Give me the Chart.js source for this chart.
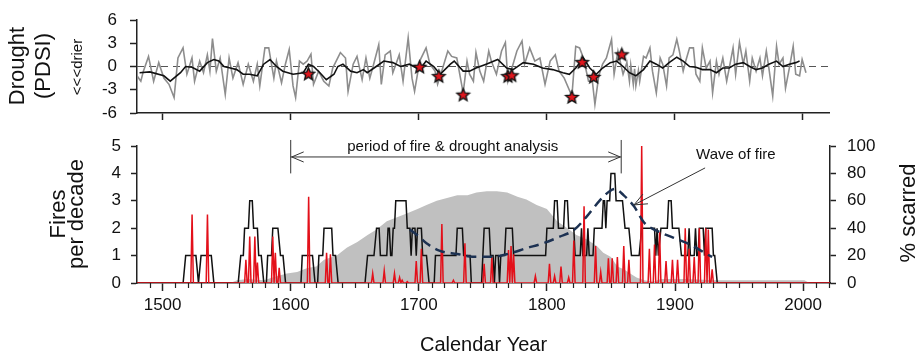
<!DOCTYPE html>
<html>
<head>
<meta charset="utf-8">
<script src="https://cdn.jsdelivr.net/npm/chart.js@4.4.0/dist/chart.umd.min.js"></script>
<style>
  body { margin: 0; background: #fff; }
  #wrap { position: relative; width: 921px; height: 362px; }
  canvas { position: absolute; left: 0; }
  #top { top: 0; }
  #bottom { top: 125px; }
</style>
</head>
<body>
<div id="wrap">
  <canvas id="top" width="921" height="125"></canvas>
  <canvas id="bottom" width="921" height="237"></canvas>
</div>
<script>
const FONT = "'Liberation Sans', Arial, sans-serif";

// tick labels
const yearTicks = [1500, 1600, 1700, 1800, 1900, 2000];
const pdsiTicks = [-6, -3, 0, 3, 6];
const fireTicks = [0, 1, 2, 3, 4, 5];
const scarTicks = [0, 20, 40, 60, 80, 100];

// top panel: annual PDSI (grey), smoothed (black), fire-year stars
const pdsiYears = [1480,1483,1485,1489,1493,1497,1501,1505,1509,1512,1516,1519,1523,1525,1529,1532,1535,1537,1539,1542,1545,1549,1552,1555,1559,1563,1567,1571,1574,1576,1580,1583,1587,1589,1593,1596,1599,1602,1604,1607,1610,1613,1616,1618,1622,1626,1630,1633,1639,1643,1645,1649,1652,1656,1659,1662,1665,1669,1671,1674,1678,1680,1685,1688,1692,1695,1697,1701,1706,1709,1713,1715,1719,1723,1726,1730,1735,1738,1740,1743,1745,1748,1751,1755,1757,1761,1765,1768,1770,1774,1777,1781,1783,1787,1791,1795,1799,1803,1807,1810,1814,1820,1823,1826,1829,1833,1836,1838,1841,1844,1847,1851,1853,1856,1860,1863,1865,1866,1868,1869,1870,1872,1873,1876,1878,1881,1883,1886,1889,1891,1894,1896,1899,1902,1904,1907,1909,1912,1915,1917,1920,1922,1925,1928,1930,1933,1935,1938,1941,1943,1946,1948,1951,1954,1956,1959,1961,1964,1967,1969,1972,1974,1977,1980,1982,1985,1987,1990,1993,1995,1998,2000,2003];
const pdsiVals = [-1.2,-1.9,-0.6,1.3,-1.9,0.5,-1.5,-2.3,-4.0,1.1,2.4,-1.0,1.1,-1.9,0.7,-0.8,1.5,-0.6,3.6,-0.6,1.1,-3.6,1.1,-1.5,0.5,-2.3,0.3,-1.9,0.3,-2.5,2.4,2.4,-1.5,0.7,-2.1,0.3,2.2,-2.5,-4.0,0.7,0.3,0.7,1.6,-2.3,-0.6,-1.9,-2.5,-0.2,1.8,1.1,-3.2,0.3,1.3,-1.7,1.1,-1.5,0.3,2.8,-2.3,1.5,2.0,-0.8,1.5,-1.9,3.7,-1.5,-3.2,0.7,2.4,0.3,-0.6,-2.3,-0.2,2.0,1.3,1.1,-3.4,0.7,-1.0,-1.9,1.8,-0.6,-1.9,2.0,0.7,-1.0,2.0,3.1,-1.9,0.3,2.0,3.3,0.3,2.4,0.7,1.1,-2.3,0.7,1.5,-0.6,-1.5,-3.8,2.6,2.4,1.1,-1.9,-1.9,-4.9,-1.2,0.3,1.1,3.5,-1.0,2.0,-1.0,0.5,-1.9,0.2,-2.3,-0.3,-2.5,-0.5,-1.9,1.3,1.1,2.4,-0.6,-3.4,1.1,0.3,-2.5,1.1,1.5,3.5,2.0,-0.6,0.7,2.4,2.4,-1.0,-1.9,2.4,-0.2,0.7,-3.4,0.7,-1.0,1.1,-1.9,-0.2,2.4,-1.0,3.1,0.3,2.0,-1.9,1.1,-0.6,1.1,-1.2,2.0,-0.2,-3.8,2.6,0.3,1.1,-2.8,-0.2,2.6,-1.0,-1.2,0.9,-0.8];

const smoothYears = [1482,1490,1501,1506,1514,1518,1523,1529,1535,1540,1544,1548,1553,1558,1563,1568,1574,1579,1584,1589,1594,1602,1610,1614,1618,1623,1628,1634,1637,1641,1647,1652,1657,1660,1667,1673,1680,1686,1693,1701,1706,1712,1717,1725,1728,1735,1740,1745,1753,1762,1769,1774,1782,1790,1797,1805,1813,1818,1823,1829,1834,1839,1844,1850,1855,1860,1865,1870,1876,1881,1886,1891,1896,1902,1907,1912,1917,1922,1928,1933,1938,1943,1948,1954,1959,1964,1969,1974,1980,1985,1990,1995,1998];
const smoothVals = [-0.8,-0.7,-1.2,-1.9,-0.8,0.0,-0.1,-0.6,0.5,0.9,0.7,0.0,-0.2,-0.4,-1.0,-1.0,-1.2,0.3,0.9,0.0,-0.6,-1.0,-0.8,0.3,0.0,-0.8,-1.7,-1.0,0.0,0.3,-0.6,-0.8,-0.4,-0.8,0.0,0.7,0.5,0.0,0.3,-0.4,0.7,0.0,-1.0,0.3,0.7,-0.6,-0.6,-0.2,0.3,0.9,-0.2,-0.4,0.5,0.3,-0.2,-0.4,-0.8,-1.0,-0.2,1.1,-0.2,-1.0,-0.2,0.5,0.7,0.0,-0.8,-1.2,-0.4,0.7,0.3,-0.2,0.5,1.2,0.7,0.0,-0.1,-0.4,-0.4,-0.8,-0.2,-0.2,0.3,0.5,0.0,-0.4,-0.2,0.3,0.7,0.0,0.3,0.5,0.7];

const starYears = [1614, 1701, 1716, 1735, 1770, 1773, 1820, 1828, 1837, 1859];
const starVals = [-1.0, -0.1, -1.3, -3.7, -1.3, -1.2, -4.0, 0.5, -1.4, 1.5];

const zeroYears = [1480, 2021];
const zeroVals = [0, 0];

// bottom panel: fires per decade (black), % scarred (red), % recording (grey), wave (dashed)
const fireStepYears = [1480,1516,1518,1526,1528,1530,1538,1540,1559,1561,1563,1564,1567,1568,1570,1571,1574,1575,1577,1579,1581,1582,1585,1586,1590,1592,1594,1596,1608,1609,1617,1619,1621,1622,1625,1626,1632,1633,1635,1637,1658,1660,1665,1667,1669,1670,1675,1676,1677,1678,1679,1680,1681,1682,1690,1691,1693,1694,1695,1697,1698,1699,1702,1703,1706,1708,1712,1713,1729,1730,1734,1735,1740,1741,1749,1750,1751,1755,1756,1758,1759,1760,1762,1763,1764,1767,1768,1773,1774,1799,1800,1805,1806,1808,1809,1813,1814,1816,1817,1821,1822,1826,1827,1828,1831,1832,1833,1836,1837,1843,1844,1845,1846,1847,1849,1850,1853,1854,1859,1861,1864,1866,1872,1874,1884,1885,1886,1887,1889,1894,1895,1897,1898,1903,1905,1910,1911,1912,1915,1916,1917,1918,1919,1922,1923,1924,1929,1930,1931,1933,2021];
const fireStepVals = [0,0,1,1,0,1,1,0,0,1,1,2,2,3,3,2,2,1,1,0,0,1,1,2,2,1,1,0,0,1,1,0,0,1,1,2,2,1,1,0,0,1,1,2,2,1,1,2,2,1,1,2,2,3,3,2,2,1,2,2,1,2,2,1,1,0,0,1,1,2,2,1,1,0,0,1,2,2,1,1,0,1,1,0,1,1,2,2,1,1,2,2,3,3,2,2,3,3,2,2,1,1,2,1,1,2,1,1,2,2,3,3,2,3,3,4,4,3,3,2,2,1,1,2,2,1,2,1,2,2,3,3,2,2,1,1,2,1,1,2,1,1,2,2,1,2,2,1,1,0,0];

const scarYears = [1523,1535,1565,1568,1572,1574,1586,1588,1591,1614,1628,1631,1664,1673,1681,1685,1687,1691,1698,1702,1718,1727,1736,1751,1757,1770,1772,1774,1791,1802,1806,1811,1817,1821,1829,1838,1842,1848,1851,1855,1860,1864,1874,1880,1884,1888,1893,1898,1902,1908,1911,1915,1919,1924,1926,1929];
const scarVals = [50,50,17,34,34,15,34,22,11,63,22,21,7,9,7,4,2,1,16,25,43,2,29,14,19,24,27,21,5,14,5,12,4,31,56,27,8,18,18,19,27,17,100,25,28,37,16,17,17,40,25,19,40,40,39,10];

const recYears = [1480,1553,1558,1566,1579,1589,1597,1605,1613,1620,1626,1636,1644,1652,1660,1667,1675,1683,1691,1699,1706,1714,1722,1730,1738,1745,1753,1761,1769,1777,1784,1792,1800,1808,1816,1823,1831,1839,1844,1850,1855,1860,1865,1870,1876,1883,1889,1907,1933,1969,2001,2005];
const recVals = [0,0,2,3,2,5,7,8,11,12,17,20,26,30,35,39,45,48,51,54,57,60,62,64,64,66,67,67,66,63,61,57,54,45,40,35,32,27,22,19,12,10,7,4,2,1,3,3,2,2,2,0];

const waveYears = [1693,1700,1706,1716,1730,1742,1758,1771,1784,1797,1810,1821,1831,1841,1849,1853,1860,1868,1876,1886,1899,1912,1925,1929];
const waveVals = [1.95,1.7,1.45,1.18,1.06,0.96,0.96,1.08,1.27,1.45,1.69,1.93,2.42,3.0,3.35,3.43,3.2,2.8,2.2,1.9,1.65,1.4,1.05,0.95];

const periodStart = 1600, periodEnd = 1858;

function pts(xs, ys) { return xs.map((x, i) => ({ x: x, y: ys[i] })); }

// annual % scarred series, zero in non-fire years
const scarSeries = [];
for (let yr = 1480; yr <= 2021; yr++) {
  const i = scarYears.indexOf(yr);
  scarSeries.push({ x: yr, y: i >= 0 ? scarVals[i] : 0 });
}

function makeStar(r) {
  const s = Math.ceil(r * 2 + 4);
  const c = document.createElement('canvas');
  c.width = s; c.height = s;
  const g = c.getContext('2d');
  g.beginPath();
  for (let i = 0; i < 10; i++) {
    const a = -Math.PI / 2 + i * Math.PI / 5;
    const rr = i % 2 === 0 ? r : r * 0.45;
    g.lineTo(s / 2 + rr * Math.cos(a), s / 2 + rr * Math.sin(a));
  }
  g.closePath();
  g.fillStyle = '#e0161d';
  g.fill();
  g.lineWidth = 1.4;
  g.strokeStyle = '#111';
  g.stroke();
  return c;
}

function rotText(g, text, xBase, yMid, size) {
  g.save();
  g.font = size + 'px ' + FONT;
  g.textAlign = 'center';
  g.textBaseline = 'alphabetic';
  g.translate(xBase, yMid);
  g.rotate(-Math.PI / 2);
  g.fillText(text, 0, 0);
  g.restore();
}

function arrowHead(g, x1, y1, x2, y2, len) {
  const a = Math.atan2(y2 - y1, x2 - x1);
  g.beginPath();
  g.moveTo(x2 - len * Math.cos(a - 0.4), y2 - len * Math.sin(a - 0.4));
  g.lineTo(x2, y2);
  g.lineTo(x2 - len * Math.cos(a + 0.4), y2 - len * Math.sin(a + 0.4));
  g.stroke();
}

// fixed axis width, no extra label padding pushed into the layout
function fixWidth(w) {
  return s => { s.width = w; s.paddingTop = 0; s.paddingBottom = 0; };
}

const axisGrid = { drawOnChartArea: false, drawTicks: true, tickLength: 6, tickColor: '#222', tickWidth: 1.5 };
const axisBorder = { display: true, color: '#222', width: 1.5 };

const topText = {
  id: 'topText',
  afterDraw(c) {
    const g = c.ctx;
    g.fillStyle = '#111';
    rotText(g, 'Drought', 24, 66, 22);
    rotText(g, '(PDSI)', 50, 66, 22);
    rotText(g, '<<<drier', 82, 67, 15);
  }
};

new Chart(document.getElementById('top'), {
  type: 'line',
  data: {
    datasets: [
      { data: pts(zeroYears, zeroVals), borderColor: '#555', borderWidth: 1.2, borderDash: [7, 5], pointRadius: 0, order: 4 },
      { data: pts(pdsiYears, pdsiVals), borderColor: '#8d8d8d', borderWidth: 1.6, pointRadius: 0, order: 3 },
      { data: pts(smoothYears, smoothVals), borderColor: '#111', borderWidth: 1.6, pointRadius: 0, order: 2 },
      { data: pts(starYears, starVals), showLine: false, pointStyle: makeStar(6.5), pointRadius: 7, order: 1 }
    ]
  },
  options: {
    responsive: false,
    animation: false,
    devicePixelRatio: 1,
    layout: { padding: { left: 0, right: 92, top: 20, bottom: 0 } },
    plugins: { legend: { display: false }, tooltip: { enabled: false } },
    scales: {
      x: {
        type: 'linear', min: 1480, max: 2021,
        afterBuildTicks: s => { s.ticks = yearTicks.map(v => ({ value: v })); },
        afterFit: s => { s.height = 12; },
        grid: Object.assign({}, axisGrid, { tickLength: 7 }),
        border: axisBorder,
        ticks: { display: false }
      },
      y: {
        min: -6, max: 6,
        afterBuildTicks: s => { s.ticks = pdsiTicks.map(v => ({ value: v })); },
        afterFit: fixWidth(137),
        grid: Object.assign({}, axisGrid, { tickLength: 7 }),
        border: axisBorder,
        ticks: { font: { family: FONT, size: 17 }, color: '#111', padding: 13, autoSkip: false }
      }
    }
  },
  plugins: [topText]
});

const bottomText = {
  id: 'bottomText',
  afterDraw(c) {
    const g = c.ctx;
    const xs = c.scales.x, ys = c.scales.y;
    g.save();
    g.fillStyle = '#111';
    rotText(g, 'Fires', 65, 89, 22);
    rotText(g, 'per decade', 83, 89, 22);
    rotText(g, '% scarred', 915, 88, 22);

    // minor decade ticks on the year axis
    g.strokeStyle = '#222';
    g.lineWidth = 1.2;
    for (let yr = 1490; yr <= 2020; yr += 10) {
      if (yr % 100 === 0) continue;
      const px = Math.round(xs.getPixelForValue(yr)) + 0.5;
      g.beginPath();
      g.moveTo(px, xs.top);
      g.lineTo(px, xs.top + 5);
      g.stroke();
    }

    // period of analysis bracket
    const x1 = xs.getPixelForValue(periodStart), x2 = xs.getPixelForValue(periodEnd);
    const ya = ys.getPixelForValue(4.6);
    g.strokeStyle = '#333';
    g.lineWidth = 1;
    g.beginPath();
    g.moveTo(x1, ya); g.lineTo(x2, ya);
    g.moveTo(x1, ys.getPixelForValue(5.22)); g.lineTo(x1, ys.getPixelForValue(4.0));
    g.moveTo(x2, ys.getPixelForValue(5.22)); g.lineTo(x2, ys.getPixelForValue(4.0));
    g.stroke();
    arrowHead(g, x1 + 30, ya, x1 + 1, ya, 13);
    arrowHead(g, x2 - 30, ya, x2 - 1, ya, 13);
    g.font = '15px ' + FONT;
    g.textAlign = 'center';
    g.textBaseline = 'middle';
    g.fillText('period of fire & drought analysis', xs.getPixelForValue(1726.5), ys.getPixelForValue(4.96));

    // wave of fire label
    g.fillText('Wave of fire', xs.getPixelForValue(1947.5), ys.getPixelForValue(4.67));
    const wx1 = xs.getPixelForValue(1923.5), wy1 = ys.getPixelForValue(4.2);
    const wx2 = xs.getPixelForValue(1868), wy2 = ys.getPixelForValue(2.85);
    g.beginPath();
    g.moveTo(wx1, wy1); g.lineTo(wx2, wy2);
    g.stroke();
    arrowHead(g, wx1, wy1, wx2, wy2, 14);
    g.restore();
  }
};

new Chart(document.getElementById('bottom'), {
  type: 'line',
  data: {
    datasets: [
      { data: pts(recYears, recVals), yAxisID: 'y1', borderWidth: 0, backgroundColor: '#c0c0c0', fill: 'origin', pointRadius: 0, order: 4 },
      { data: pts(fireStepYears, fireStepVals), yAxisID: 'y', borderColor: '#111', borderWidth: 1.5, pointRadius: 0, order: 3 },
      { data: scarSeries, yAxisID: 'y1', borderColor: '#e3101a', borderWidth: 1.5, pointRadius: 0, order: 2 },
      { data: pts(waveYears, waveVals), yAxisID: 'y', borderColor: '#1c3152', borderWidth: 2.5, borderDash: [10, 6], tension: 0.4, cubicInterpolationMode: 'monotone', pointRadius: 0, order: 1 }
    ]
  },
  options: {
    responsive: false,
    animation: false,
    devicePixelRatio: 1,
    layout: { padding: { left: 0, right: 0, top: 21, bottom: 0 } },
    plugins: { legend: { display: false }, tooltip: { enabled: false } },
    scales: {
      x: {
        type: 'linear', min: 1480, max: 2021,
        afterBuildTicks: s => { s.ticks = yearTicks.map(v => ({ value: v })); },
        afterFit: s => { s.height = 79; },
        grid: Object.assign({}, axisGrid, { tickLength: 8 }),
        border: axisBorder,
        ticks: { font: { family: FONT, size: 17 }, color: '#111', padding: 4, maxRotation: 0, autoSkip: false, callback: v => String(v) },
        title: { display: true, text: 'Calendar Year', font: { family: FONT, size: 20 }, color: '#111', padding: { top: 0, bottom: 5 } }
      },
      y: {
        position: 'left', min: 0, max: 5,
        afterBuildTicks: s => { s.ticks = fireTicks.map(v => ({ value: v })); },
        afterFit: fixWidth(137),
        grid: axisGrid,
        border: axisBorder,
        ticks: { font: { family: FONT, size: 17 }, color: '#111', padding: 10, autoSkip: false }
      },
      y1: {
        position: 'right', min: 0, max: 100,
        afterBuildTicks: s => { s.ticks = scarTicks.map(v => ({ value: v })); },
        afterFit: fixWidth(91),
        grid: axisGrid,
        border: axisBorder,
        ticks: { font: { family: FONT, size: 17 }, color: '#111', padding: 11, autoSkip: false }
      }
    }
  },
  plugins: [bottomText]
});
</script>
</body>
</html>
